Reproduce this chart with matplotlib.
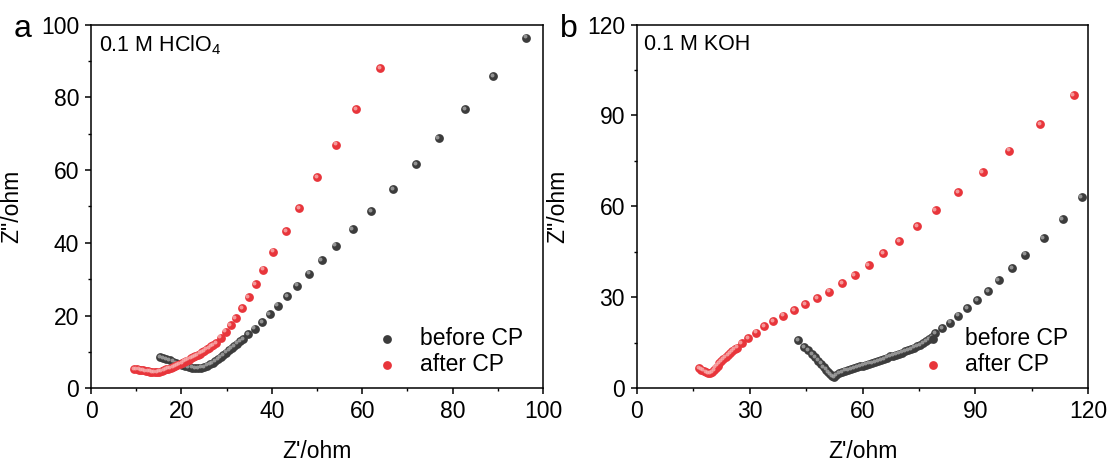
import matplotlib
matplotlib.use("Agg")
import matplotlib.pyplot as plt
from matplotlib.transforms import offset_copy

# ---------------- data ----------------
a_before_x = [15.3, 16.0, 16.7, 17.4, 18.1, 18.8, 19.5, 20.2, 20.9, 21.6,
              22.3, 23.0, 23.7, 24.4, 25.1, 25.7, 26.3, 26.9, 27.5, 28.1,
              28.7, 29.3, 29.9, 30.5, 31.1, 31.7, 32.3, 33.0, 33.6, 34.8,
              36.2, 37.8, 39.5, 41.3, 43.4, 45.6, 48.2, 51.0, 54.1, 57.9,
              61.9, 66.8, 71.9, 76.9, 82.7, 89.0, 96.2]
a_before_y = [8.5, 8.3, 8.0, 7.7, 7.3, 7.0, 6.7, 6.4, 6.1, 5.9,
              5.7, 5.6, 5.6, 5.7, 5.9, 6.2, 6.6, 7.0, 7.5, 8.0,
              8.6, 9.2, 9.8, 10.4, 11.0, 11.6, 12.3, 12.9, 13.5, 14.8,
              16.4, 18.2, 20.3, 22.7, 25.3, 28.2, 31.5, 35.2, 39.2, 43.8,
              48.7, 54.8, 61.7, 68.8, 76.7, 85.9, 96.4]

a_after_x = [9.6, 10.1, 10.6, 11.1, 11.6, 12.1, 12.6, 13.1, 13.6, 14.1,
             14.6, 15.1, 15.6, 16.1, 16.6, 17.1, 17.6, 18.1, 18.6, 19.1,
             19.6, 20.1, 20.6, 21.1, 21.6, 22.1, 22.6, 23.1, 23.6, 24.1,
             24.6, 25.1, 25.6, 26.1, 26.6, 27.1, 27.7, 28.7, 29.8, 30.9,
             32.0, 33.4, 34.9, 36.4, 38.1, 40.3, 43.1, 46.1, 50.1, 54.3,
             58.7, 64.0]
a_after_y = [5.3, 5.2, 5.1, 5.0, 4.9, 4.8, 4.7, 4.6, 4.5, 4.5,
             4.5, 4.6, 4.8, 5.0, 5.2, 5.4, 5.6, 5.9, 6.1, 6.4,
             6.7, 7.0, 7.3, 7.6, 7.9, 8.2, 8.5, 8.8, 9.1, 9.5,
             9.9, 10.3, 10.7, 11.1, 11.5, 11.9, 12.4, 13.9, 15.6, 17.3,
             19.3, 22.0, 25.1, 28.6, 32.6, 37.6, 43.3, 49.6, 58.0, 67.0,
             76.7, 88.0]

b_before_x = [42.9, 44.4, 45.6, 46.6, 47.5, 48.3, 49.0, 49.7, 50.3, 50.9,
              51.4, 51.9, 52.4, 53.0, 53.7, 54.5, 55.3, 56.1, 56.9, 57.7,
              58.5, 59.3, 60.1, 60.9, 61.7, 62.5, 63.3, 64.1, 64.9, 65.7,
              66.5, 67.3, 68.1, 68.9, 69.7, 70.5, 71.3, 72.1, 72.9, 73.7,
              74.5, 75.3, 76.1, 76.9, 77.7, 78.5, 79.2, 81.2, 83.2, 85.4,
              87.8, 90.4, 93.3, 96.2, 99.7, 103.2, 108.1, 113.2, 118.2]
b_before_y = [15.8, 13.5, 12.5, 11.3, 10.2, 9.1, 8.1, 7.1, 6.2, 5.3,
              4.6, 4.0, 3.8, 4.3, 4.9, 5.4, 5.8, 6.1, 6.4, 6.7,
              7.0, 7.2, 7.5, 7.8, 8.1, 8.4, 8.7, 9.0, 9.3, 9.7,
              10.1, 10.5, 10.8, 11.1, 11.4, 11.8, 12.2, 12.6, 13.0, 13.4,
              13.8, 14.3, 14.9, 15.5, 16.2, 16.9, 18.1, 19.9, 21.7, 24.0,
              26.4, 29.1, 32.0, 35.6, 39.6, 44.1, 49.5, 55.7, 63.1]

b_after_x = [16.6, 17.2, 17.8, 18.4, 19.0, 19.5, 20.0, 20.5, 21.0, 21.5,
             22.0, 22.5, 23.0, 23.6, 24.2, 24.8, 25.4, 26.0, 26.6, 27.9,
             29.6, 31.7, 33.9, 36.3, 38.9, 41.8, 44.8, 47.9, 51.2, 54.5,
             57.9, 61.6, 65.5, 69.8, 74.5, 79.4, 85.4, 91.9, 99.0, 107.1,
             116.1]
b_after_y = [6.6, 6.2, 5.8, 5.4, 5.1, 4.9, 5.4, 6.1, 6.8, 7.5,
             8.2, 8.9, 9.6, 10.3, 11.0, 11.7, 12.3, 12.9, 13.4, 15.0,
             16.6, 18.4, 20.5, 22.2, 24.0, 25.9, 27.7, 29.8, 31.9, 34.6,
             37.4, 40.6, 44.5, 48.6, 53.6, 58.7, 64.8, 71.4, 78.4, 87.1,
             96.6]

series_labels = ["before CP", "after CP"]
panel_titles = ["0.1 M HClO$_4$", "0.1 M KOH"]
panel_letters = ["a", "b"]
xlabel = "Z'/ohm"
ylabel = 'Z"/ohm'

# ---------------- style ----------------
plt.rcParams['font.family'] = ['Liberation Sans', 'DejaVu Sans']
plt.rcParams['mathtext.fontset'] = 'custom'
plt.rcParams['mathtext.rm'] = 'Liberation Sans'
plt.rcParams['mathtext.it'] = 'Liberation Sans'
FS = 16.5

dark, dark_hi = '#3c3c3c', '#a8a8a8'
red, red_hi = '#e8353b', '#f8b0b0'

fig = plt.figure(figsize=(11.13, 4.62), dpi=100)
W, H = 1113, 462
axA = fig.add_axes([91 / W, (H - 388.3) / H, 452 / W, 363.8 / H])
axB = fig.add_axes([636.7 / W, (H - 388.3) / H, 451.6 / W, 363.8 / H])


def draw(ax, xb, yb, xa, ya):
    hi = offset_copy(ax.transData, fig=fig, x=-0.9, y=0.9, units='points')
    h1 = ax.scatter(xb, yb, s=40, color=dark, linewidths=0, zorder=3)
    ax.scatter(xb, yb, s=8, color=dark_hi, linewidths=0, alpha=0.8,
               transform=hi, zorder=3.1)
    h2 = ax.scatter(xa, ya, s=40, color=red, linewidths=0, zorder=4)
    ax.scatter(xa, ya, s=8, color=red_hi, linewidths=0, alpha=0.8,
               transform=hi, zorder=4.1)
    return h1, h2


hA = draw(axA, a_before_x, a_before_y, a_after_x, a_after_y)
hB = draw(axB, b_before_x, b_before_y, b_after_x, b_after_y)

axA.set_xlim(0, 100)
axA.set_ylim(0, 100)
axA.set_xticks([0, 20, 40, 60, 80, 100])
axA.set_yticks([0, 20, 40, 60, 80, 100])
axA.set_xticks([10, 30, 50, 70, 90], minor=True)
axA.set_yticks([10, 30, 50, 70, 90], minor=True)

axB.set_xlim(0, 120)
axB.set_ylim(0, 120)
axB.set_xticks([0, 30, 60, 90, 120])
axB.set_yticks([0, 30, 60, 90, 120])
axB.set_xticks([15, 45, 75, 105], minor=True)
axB.set_yticks([15, 45, 75, 105], minor=True)

for ax, h, title, letter, lx in [(axA, hA, panel_titles[0], panel_letters[0], 14),
                                 (axB, hB, panel_titles[1], panel_letters[1], 560)]:
    for sp in ax.spines.values():
        sp.set_linewidth(1.1)
    ax.tick_params(which='major', direction='out', length=4.5, width=1.1,
                   labelsize=FS, pad=4)
    ax.tick_params(which='minor', direction='out', length=2.5, width=1.0)
    ax.set_xlabel(xlabel, fontsize=FS, labelpad=12)
    ax.set_ylabel(ylabel, fontsize=FS)
    ax.yaxis.set_label_coords(-0.150, 0.5)
    ax.text(0.017, 0.975, title, transform=ax.transAxes, fontsize=15.5,
            va='top', ha='left')
    ax.legend(h, series_labels, loc='lower right',
              bbox_to_anchor=(0.955, 0.035), frameon=False, fontsize=FS,
              handlelength=1.0, handletextpad=0.9, labelspacing=0.12,
              borderpad=0, borderaxespad=0, scatterpoints=1)
    fig.text(lx / W, 1 - 37 / H, letter, fontsize=23, ha='left', va='baseline')

fig.savefig('out.png', dpi=100)
